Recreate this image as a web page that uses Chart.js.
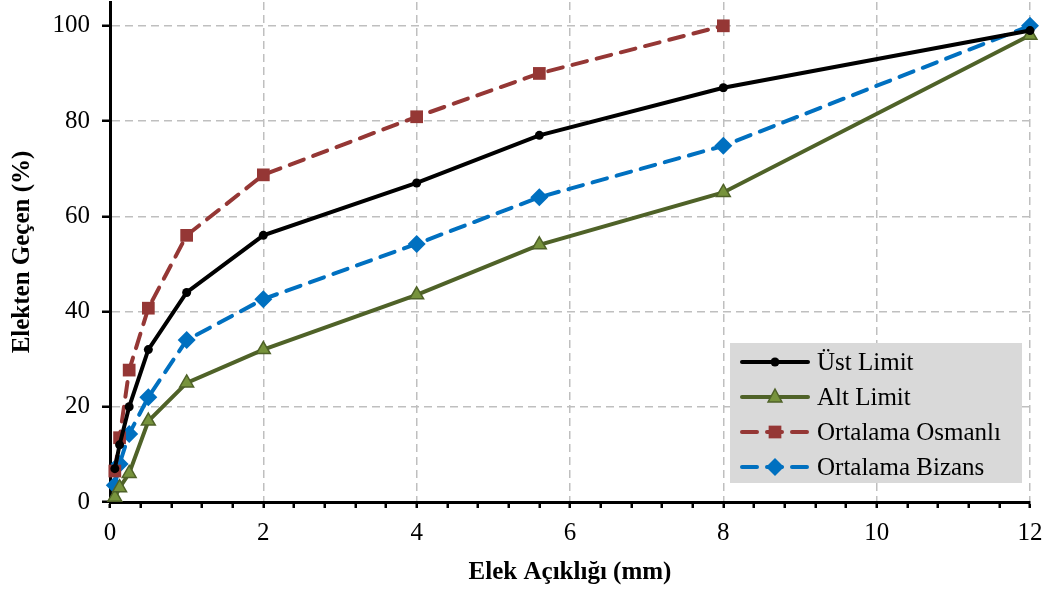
<!DOCTYPE html>
<html lang="tr">
<head>
    <meta charset="UTF-8">
    <title>Elek Analizi</title>
    <style>
        body {
            margin: 0;
            background-color: #ffffff;
        }
        .chart-container {
            width: 1048px;
            height: 591px;
        }
    </style>
</head>
<body>
    <div class="chart-container">
        <canvas id="sieveChart"></canvas>
    </div>
    <script src="https://cdn.jsdelivr.net/npm/chart.js"></script>
    <script>
        // elek açıklıkları (mm)
        const sieveSizes = [0.063, 0.125, 0.25, 0.5, 1, 2, 4, 5.6, 8, 12];
        const ustLimit = [7, 12, 20, 32, 44, 56, 67, 77, 87, 99];
        const altLimit = [1, 3, 6, 17, 25, 32, 43.5, 54, 65, 98];
        const osmanli = [6.5, 13.5, 27.7, 40.7, 56, 68.7, 80.9, 90, 100, null];
        const bizans = [3.5, 8, 14.3, 22, 34, 42.6, 54.2, 64, 74.8, 100];

        const xTickLabels = [0, 2, 4, 6, 8, 10, 12];
        const yTickLabels = [0, 20, 40, 60, 80, 100];

        const FONT = '"Liberation Serif", "Times New Roman", serif';

        function toPoints(values) {
            return sieveSizes.map((x, i) => ({ x: x, y: values[i] })).filter(p => p.y !== null);
        }

        function drawMarker(ctx, ds, x, y) {
            const r = ds.pointRadius;
            ctx.fillStyle = ds.pointBackgroundColor;
            ctx.strokeStyle = ds.pointBorderColor;
            ctx.lineWidth = ds.pointBorderWidth;
            ctx.beginPath();
            if (ds.pointStyle === 'circle') {
                ctx.arc(x, y, r, 0, Math.PI * 2);
            } else if (ds.pointStyle === 'triangle') {
                ctx.moveTo(x, y - r);
                ctx.lineTo(x + r * 0.866, y + r * 0.5 + 1);
                ctx.lineTo(x - r * 0.866, y + r * 0.5 + 1);
                ctx.closePath();
            } else if (ds.pointStyle === 'rect') {
                const s = r * Math.SQRT1_2;
                ctx.rect(x - s, y - s, s * 2, s * 2);
            } else {
                ctx.moveTo(x, y - r);
                ctx.lineTo(x + r, y);
                ctx.lineTo(x, y + r);
                ctx.lineTo(x - r, y);
                ctx.closePath();
            }
            ctx.fill();
            if (ds.pointBorderWidth) ctx.stroke();
        }

        // legend box inside the plot (bottom right), grey background like the original
        const legendBox = {
            id: 'legendBox',
            afterDraw(chart) {
                const ctx = chart.ctx;
                const left = chart.chartArea.right - 300;
                const top = 343;
                ctx.save();
                ctx.fillStyle = '#d9d9d9';
                ctx.fillRect(left, top, 292, 140);
                chart.data.datasets.forEach((ds, i) => {
                    const y = top + 19 + i * 35;
                    ctx.strokeStyle = ds.borderColor;
                    ctx.lineWidth = ds.borderWidth;
                    ctx.lineCap = 'round';
                    ctx.setLineDash(ds.borderDash || []);
                    ctx.beginPath();
                    ctx.moveTo(left + 12, y);
                    ctx.lineTo(left + 78, y);
                    ctx.stroke();
                    ctx.setLineDash([]);
                    drawMarker(ctx, ds, left + 45, y);
                    ctx.fillStyle = '#000';
                    ctx.font = '25px ' + FONT;
                    ctx.textBaseline = 'middle';
                    ctx.textAlign = 'left';
                    ctx.fillText(ds.label, left + 87, y + 1);
                });
                ctx.restore();
            }
        };

        const ctx = document.getElementById('sieveChart').getContext('2d');
        const sieveChart = new Chart(ctx, {
            type: 'line',
            data: {
                datasets: [
                    {
                        label: 'Üst Limit',
                        data: toPoints(ustLimit),
                        borderColor: '#000000',
                        borderWidth: 4,
                        pointStyle: 'circle',
                        pointRadius: 4.5,
                        pointBackgroundColor: '#000000',
                        pointBorderColor: '#000000',
                        pointBorderWidth: 0,
                    },
                    {
                        label: 'Alt Limit',
                        data: toPoints(altLimit),
                        borderColor: '#4f6228',
                        borderWidth: 4,
                        pointStyle: 'triangle',
                        pointRadius: 8,
                        pointBackgroundColor: '#77933c',
                        pointBorderColor: '#4f6228',
                        pointBorderWidth: 1.5,
                    },
                    {
                        label: 'Ortalama Osmanlı',
                        data: toPoints(osmanli),
                        borderColor: '#953735',
                        borderWidth: 4,
                        borderDash: [15, 10],
                        borderCapStyle: 'round',
                        pointStyle: 'rect',
                        pointRadius: 9,
                        pointBackgroundColor: '#953735',
                        pointBorderColor: '#953735',
                        pointBorderWidth: 0,
                    },
                    {
                        label: 'Ortalama Bizans',
                        data: toPoints(bizans),
                        borderColor: '#0070c0',
                        borderWidth: 4,
                        borderDash: [15, 10],
                        borderCapStyle: 'round',
                        pointStyle: 'rectRot',
                        pointRadius: 9,
                        pointBackgroundColor: '#0070c0',
                        pointBorderColor: '#0070c0',
                        pointBorderWidth: 0,
                    }
                ]
            },
            options: {
                responsive: true,
                maintainAspectRatio: false,
                animation: false,
                clip: false,
                layout: {
                    autoPadding: false,
                    padding: { left: 0, right: 18, top: 2, bottom: 0 }
                },
                plugins: {
                    legend: { display: false },
                    tooltip: { enabled: false },
                },
                scales: {
                    x: {
                        type: 'linear',
                        min: 0,
                        max: 12,
                        afterBuildTicks: (scale) => {
                            const ticks = [];
                            for (let i = 0; i <= 30; i++) ticks.push({ value: Math.round(i * 4) / 10 });
                            scale.ticks = ticks;
                        },
                        afterFit: (scale) => {
                            scale.height = 89;
                            scale.paddingLeft = 0;
                            scale.paddingRight = 0;
                        },
                        ticks: {
                            autoSkip: false,
                            maxRotation: 0,
                            padding: 10,
                            color: '#000',
                            font: { family: FONT, size: 25 },
                            callback: (v) => xTickLabels.includes(v) ? String(v) : '',
                        },
                        grid: {
                            color: (c) => (c.tick && c.tick.value > 0 && xTickLabels.includes(c.tick.value)) ? '#bfbfbf' : 'rgba(0,0,0,0)',
                            lineWidth: 1.5,
                            borderDash: [8, 5],
                            tickColor: '#000',
                            tickLength: 6,
                            tickWidth: 2.5,
                        },
                        border: { display: true, color: '#000', width: 3, dash: [8, 5] },
                        title: {
                            display: true,
                            text: 'Elek Açıklığı (mm)',
                            color: '#000',
                            font: { family: FONT, size: 25, weight: 'bold' },
                            padding: { top: 3, bottom: 3 },
                        },
                    },
                    y: {
                        min: 0,
                        max: 105,
                        afterBuildTicks: (scale) => {
                            scale.ticks = yTickLabels.map(v => ({ value: v }));
                        },
                        afterFit: (scale) => {
                            scale.width = 110;
                            scale.paddingTop = 0;
                            scale.paddingBottom = 0;
                        },
                        ticks: {
                            padding: 12,
                            color: '#000',
                            font: { family: FONT, size: 25 },
                        },
                        grid: {
                            color: (c) => (c.tick && c.tick.value > 0) ? '#bfbfbf' : 'rgba(0,0,0,0)',
                            lineWidth: 1.5,
                            borderDash: [8, 5],
                            tickColor: '#000',
                            tickLength: 8,
                            tickWidth: 2.5,
                        },
                        border: { display: true, color: '#000', width: 3, dash: [8, 5] },
                        title: {
                            display: true,
                            text: 'Elekten Geçen (%)',
                            color: '#000',
                            font: { family: FONT, size: 25, weight: 'bold' },
                            padding: { top: 8, bottom: 8 },
                        },
                    },
                },
            },
            plugins: [legendBox],
        });
    </script>
</body>
</html>
